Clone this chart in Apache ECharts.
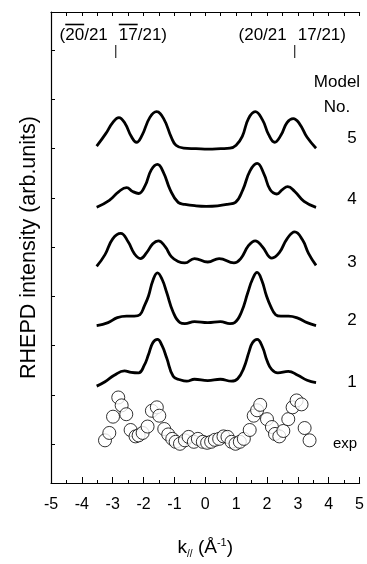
<!DOCTYPE html>
<html>
<head>
<meta charset="utf-8">
<script src="https://cdn.jsdelivr.net/npm/echarts@6/dist/echarts.min.js"></script>
<style>
  html, body { margin: 0; padding: 0; background: #fff; }
  #chart { width: 367px; height: 564px; }
</style>
</head>
<body>
<div id="chart"></div>
<script>
const FONT = '"Liberation Sans", Arial, sans-serif';

// k (1/A), intensity (arb. units, curves offset vertically)
const model1 = [[-3.52,1.18],[-3.25,1.27],[-2.95,1.40],[-2.62,1.49],[-2.4,1.46],[-2.16,1.45],[-1.98,1.60],[-1.84,1.82],[-1.7,2.06],[-1.55,2.13],[-1.4,2.0],[-1.25,1.75],[-1.04,1.38],[-0.82,1.31],[-0.6,1.28],[-0.35,1.32],[0.08,1.29],[0.49,1.32],[0.85,1.28],[1.05,1.33],[1.25,1.55],[1.42,1.88],[1.53,2.06],[1.68,2.13],[1.85,1.98],[2.0,1.70],[2.15,1.52],[2.35,1.45],[2.69,1.48],[3.0,1.40],[3.3,1.30],[3.59,1.25]];
const model2 = [[-3.52,2.41],[-3.15,2.47],[-2.85,2.57],[-2.55,2.60],[-2.3,2.60],[-2.12,2.63],[-1.98,2.80],[-1.84,3.01],[-1.7,3.32],[-1.55,3.48],[-1.4,3.35],[-1.25,3.08],[-1.04,2.68],[-0.82,2.47],[-0.66,2.45],[-0.35,2.49],[0.08,2.47],[0.49,2.49],[0.8,2.45],[0.95,2.47],[1.17,2.68],[1.38,3.08],[1.53,3.35],[1.68,3.49],[1.83,3.33],[1.98,3.02],[2.12,2.80],[2.28,2.63],[2.45,2.60],[2.7,2.60],[3.0,2.56],[3.3,2.47],[3.59,2.41]];
const model3 = [[-3.52,3.61],[-3.25,3.85],[-3.0,4.17],[-2.74,4.28],[-2.5,4.11],[-2.3,3.87],[-2.1,3.77],[-1.9,3.89],[-1.7,4.07],[-1.52,4.13],[-1.3,4.01],[-1.1,3.81],[-0.88,3.71],[-0.66,3.68],[-0.35,3.77],[0.08,3.70],[0.45,3.77],[0.93,3.68],[1.15,3.77],[1.4,4.03],[1.62,4.13],[1.85,4.01],[2.16,3.78],[2.4,3.89],[2.65,4.17],[2.9,4.31],[3.15,4.15],[3.35,3.87],[3.59,3.63]];
const model4 = [[-3.52,4.81],[-3.11,4.95],[-2.8,5.13],[-2.55,5.21],[-2.35,5.13],[-2.16,5.09],[-1.95,5.25],[-1.75,5.57],[-1.55,5.68],[-1.35,5.51],[-1.14,5.17],[-0.88,4.91],[-0.66,4.87],[-0.3,4.84],[0.03,4.83],[0.4,4.84],[0.72,4.87],[0.98,4.91],[1.22,5.17],[1.45,5.55],[1.68,5.70],[1.9,5.49],[2.1,5.17],[2.32,5.08],[2.5,5.17],[2.67,5.23],[2.9,5.13],[3.2,4.93],[3.59,4.81]];
const model5 = [[-3.52,6.05],[-3.22,6.31],[-3.0,6.53],[-2.8,6.63],[-2.6,6.51],[-2.4,6.25],[-2.23,6.13],[-2.05,6.27],[-1.8,6.63],[-1.58,6.75],[-1.35,6.61],[-1.1,6.23],[-0.95,6.07],[-0.7,6.01],[-0.3,6.0],[0.1,5.99],[0.5,6.0],[0.8,6.01],[1.0,6.07],[1.2,6.25],[1.4,6.61],[1.62,6.75],[1.85,6.59],[2.05,6.29],[2.25,6.13],[2.45,6.27],[2.65,6.53],[2.85,6.61],[3.05,6.51],[3.3,6.23],[3.59,6.01]];

const expK = [-3.25,-3.11,-2.99,-2.82,-2.71,-2.56,-2.42,-2.26,-2.16,-2.03,-1.87,-1.73,-1.57,-1.49,-1.33,-1.20,-1.07,-0.96,-0.82,-0.66,-0.54,-0.37,-0.24,-0.08,0.06,0.19,0.31,0.45,0.59,0.72,0.85,0.98,1.12,1.25,1.44,1.57,1.68,1.78,2.00,2.16,2.26,2.40,2.53,2.69,2.83,2.96,3.12,3.22,3.38];
const expI = [0.08,0.23,0.56,0.95,0.79,0.61,0.29,0.16,0.18,0.23,0.36,0.68,0.75,0.58,0.31,0.20,0.11,0.05,0.01,0.08,0.15,0.05,0.11,0.05,0.03,0.05,0.09,0.11,0.16,0.15,0.05,0.01,0.05,0.11,0.29,0.58,0.69,0.80,0.51,0.35,0.21,0.16,0.27,0.51,0.75,0.89,0.81,0.33,0.08];

const modelNames = ['1', '2', '3', '4', '5'];
const modelLabelY = [382, 320, 262, 199, 138];
const braggPos = [-2.9, 2.9];
const braggText = ['(20/21', '17/21)'];
const yTicks = [0, 1, 2, 3, 4, 5, 6, 7, 8];

const chart = echarts.init(document.getElementById('chart'));

const lineSeries = [model1, model2, model3, model4, model5].map((d, i) => ({
  name: 'Model ' + modelNames[i],
  type: 'line',
  data: d,
  smooth: 0.45,
  showSymbol: false,
  lineStyle: { color: '#000', width: 2.8 }
}));

const option = {
  animation: false,
  backgroundColor: '#fff',
  grid: { left: 51, right: 3, top: 12, bottom: 73 },
  xAxis: [
    {
      type: 'value', min: -5, max: 5, interval: 1, position: 'bottom',
      axisLine: { show: true, onZero: false, lineStyle: { color: '#000', width: 1.2 } },
      axisTick: { inside: true, length: 6, lineStyle: { color: '#000' } },
      minorTick: { show: true, splitNumber: 2, length: 3, lineStyle: { color: '#000' } },
      axisLabel: { color: '#000', fontSize: 16, fontFamily: FONT, margin: 14 },
      splitLine: { show: false },
      name: '{n|k}{sub|//}{n| (Å}{sup|-1}{n|)}',
      nameLocation: 'middle', nameGap: 54,
      nameTextStyle: {
        color: '#000', fontFamily: FONT,
        rich: {
          n: { fontSize: 19, fontFamily: FONT, color: '#000', lineHeight: 22 },
          sub: { fontSize: 10, fontFamily: FONT, color: '#000', verticalAlign: 'bottom', lineHeight: 8 },
          sup: { fontSize: 11, fontFamily: FONT, color: '#000', verticalAlign: 'top', lineHeight: 12 }
        }
      }
    },
    {
      type: 'value', min: -5, max: 5, interval: 0.5, position: 'top',
      axisLine: { show: true, onZero: false, lineStyle: { color: '#000', width: 1.2 } },
      axisTick: { inside: true, length: 4, lineStyle: { color: '#000' } },
      axisLabel: { show: false },
      splitLine: { show: false }
    }
  ],
  yAxis: {
    type: 'value', min: -0.786, max: 8.774,
    axisLine: { show: true, onZero: false, lineStyle: { color: '#000', width: 1.2 } },
    axisTick: { show: true, inside: true, length: 4, customValues: yTicks, lineStyle: { color: '#000' } },
    axisLabel: { show: false },
    splitLine: { show: false },
    name: 'RHEPD intensity (arb.units)',
    nameLocation: 'middle', nameRotate: 90, nameGap: 11,
    nameTextStyle: { color: '#000', fontSize: 21.5, fontFamily: FONT }
  },
  series: lineSeries.concat([{
    name: 'exp',
    type: 'scatter',
    data: expK.map((k, i) => [k, expI[i]]),
    symbol: 'circle',
    symbolSize: 13,
    itemStyle: { color: '#fff', borderColor: '#000', borderWidth: 1 }
  }])
};

chart.setOption(option);

// annotations: reciprocal-lattice markers, model numbers
const ctx = document.createElement('canvas').getContext('2d');
const topFont = '17px ' + FONT;
ctx.font = topFont;
const w = (s) => ctx.measureText(s).width;

const graphics = [];
braggPos.forEach((pos, i) => {
  const px = chart.convertToPixel({ xAxisIndex: 0 }, pos);
  const lx = px - 8, rx = px + 3;
  graphics.push({ type: 'line', shape: { x1: px, y1: 45, x2: px, y2: 58 }, style: { stroke: '#000', lineWidth: 1 } });
  graphics.push({ type: 'text', x: lx, y: 35, style: { text: braggText[0], font: topFont, fill: '#000', align: 'right', verticalAlign: 'middle' } });
  graphics.push({ type: 'text', x: rx, y: 35, style: { text: braggText[1], font: topFont, fill: '#000', align: 'left', verticalAlign: 'middle' } });
  if (i === 0) {
    const a = lx - w(braggText[0]) + w('(');
    graphics.push({ type: 'line', shape: { x1: a, y1: 24.5, x2: a + w('20'), y2: 24.5 }, style: { stroke: '#000', lineWidth: 1.6 } });
    graphics.push({ type: 'line', shape: { x1: rx, y1: 24.5, x2: rx + w('17'), y2: 24.5 }, style: { stroke: '#000', lineWidth: 1.6 } });
  }
});

const sideFont = '17px ' + FONT;
graphics.push({ type: 'text', x: 337, y: 82, style: { text: 'Model', font: sideFont, fill: '#000', align: 'center', verticalAlign: 'middle' } });
graphics.push({ type: 'text', x: 337, y: 107, style: { text: 'No.', font: sideFont, fill: '#000', align: 'center', verticalAlign: 'middle' } });
modelNames.forEach((n, i) => {
  graphics.push({ type: 'text', x: 352, y: modelLabelY[i], style: { text: n, font: sideFont, fill: '#000', align: 'center', verticalAlign: 'middle' } });
});
graphics.push({ type: 'text', x: 345, y: 444, style: { text: 'exp', font: '15px ' + FONT, fill: '#000', align: 'center', verticalAlign: 'middle' } });

chart.setOption({ graphic: graphics });
</script>
</body>
</html>
